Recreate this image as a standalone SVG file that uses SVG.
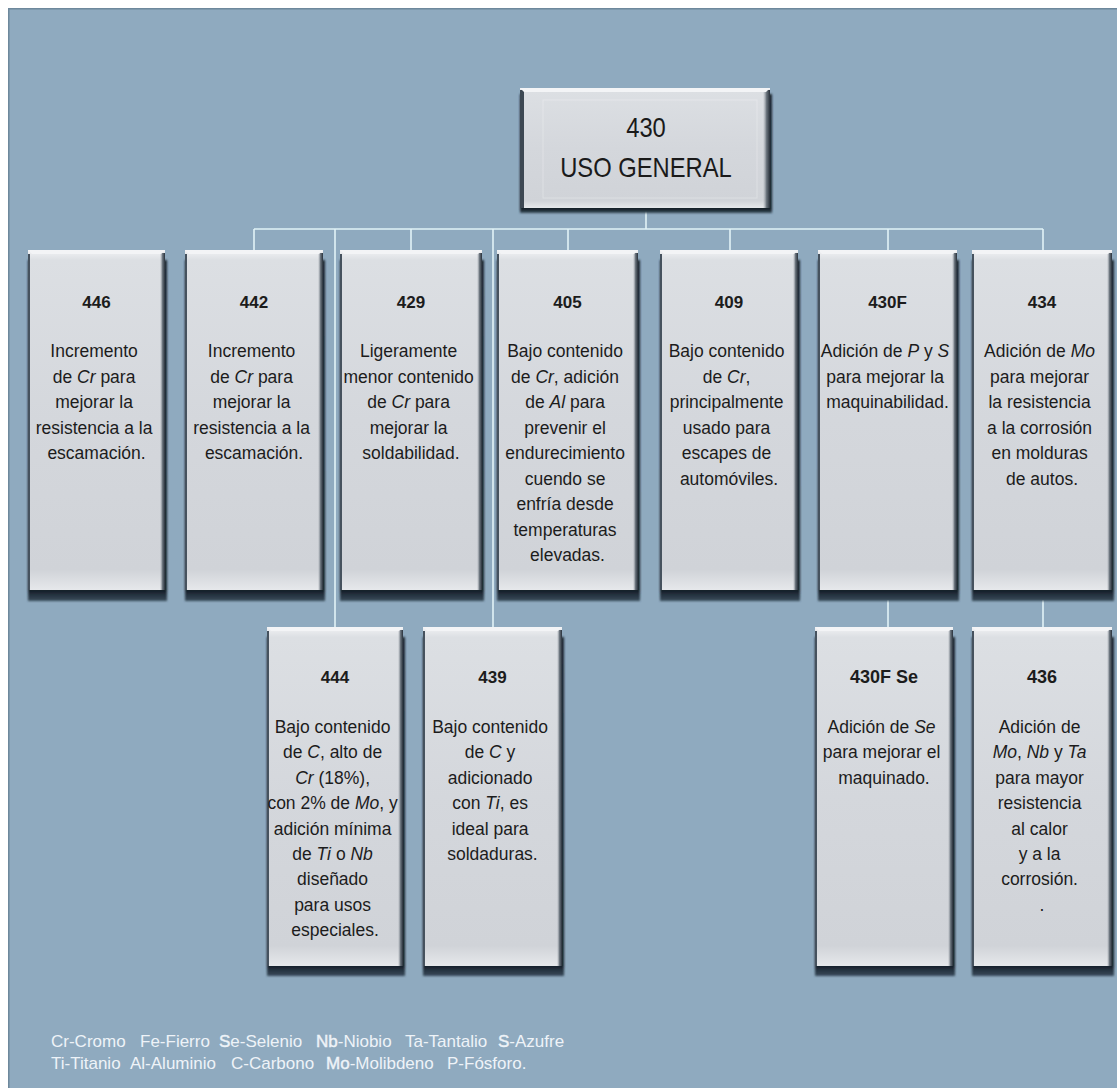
<svg xmlns="http://www.w3.org/2000/svg" width="1117" height="1088" viewBox="0 0 1117 1088">
  <defs>
    <linearGradient id="faceGrad" x1="0" y1="0" x2="0" y2="1">
      <stop offset="0" stop-color="#F1F2F4"/>
      <stop offset="0.03" stop-color="#DCDFE3"/>
      <stop offset="0.5" stop-color="#D4D7DC"/>
      <stop offset="0.94" stop-color="#D0D3D8"/>
      <stop offset="1" stop-color="#E6E8EB"/>
    </linearGradient>
    <linearGradient id="edgeRGrad" x1="0" y1="0" x2="1" y2="0">
      <stop offset="0" stop-color="#9AA1A9" stop-opacity="0"/>
      <stop offset="0.5" stop-color="#6B747D"/>
      <stop offset="1" stop-color="#27303A"/>
    </linearGradient>
    <linearGradient id="shadowGrad" x1="0" y1="0" x2="0" y2="1">
      <stop offset="0" stop-color="#1A2530"/>
      <stop offset="0.97" stop-color="#17212B"/>
      <stop offset="1" stop-color="#3B4C5C"/>
    </linearGradient>
    <filter id="soft" x="-5%" y="-5%" width="110%" height="110%">
      <feGaussianBlur stdDeviation="0.9"/>
    </filter>
  </defs>
  <style>
    .panel { fill: #8FAABF; }
    .panelEdge { stroke: #6E889C; stroke-width: 1.5; fill: none; }
    .conn { stroke: #E1F3F7; stroke-width: 1.6; fill: none; }
    .sh { fill: url(#shadowGrad); filter: url(#soft); }
    .face { fill: url(#faceGrad); }
    .edgeR { fill: url(#edgeRGrad); }
    .edgeL { fill: #46525E; }
    .topb { fill: #F3F4F6; }
    .inner { fill: none; stroke: #FFFFFF; stroke-opacity: 0.28; stroke-width: 1; }
    text { font-family: "Liberation Sans", Arial, sans-serif; fill: #1C1C1C; text-anchor: middle; }
    .ttl { font-size: 17px; font-weight: bold; }
    .ttl2 { font-size: 18px; font-weight: bold; }
    .b { font-size: 17.5px; }
    .i { font-style: italic; }
    .main { font-size: 27px; fill: #1A1A1A; }
    .leg { font-size: 17px; fill: #EEF3F8; text-anchor: start; }
    .bd { stroke: #EEF3F8; stroke-width: 0.45; }
  </style>

  <!-- background panel -->
  <rect x="0" y="0" width="1117" height="1088" fill="#FFFFFF"/>
  <rect class="panel" x="8" y="8" width="1109" height="1080"/>
  <path class="panelEdge" d="M8.75,1088 V8.75 H1117"/>

  <!-- connectors -->
  <g id="connectors">
    <path class="conn" d="M646,208 V229"/>
    <path class="conn" d="M254,229 H1043"/>
    <path class="conn" d="M254,229 V250 M411,229 V250 M568,229 V250 M730,229 V250 M888,229 V250 M1043,229 V250"/>
    <path class="conn" d="M335,229 V627 M493,229 V627"/>
    <path class="conn" d="M888,600 V627 M1043,600 V627"/>
  </g>

  <!-- root node -->
  <g id="n430">
    <rect class="sh" x="520" y="94" width="252" height="119"/>
    <rect class="face" x="520" y="88" width="250" height="120"/>
    <rect class="edgeR" x="763" y="90" width="7" height="118"/>
    <rect x="520" y="90" width="4" height="118" fill="#3D4853"/>
    <polygon class="topb" points="520,88 770,88 766,92 524,92"/>
    <rect class="inner" x="543" y="100" width="214" height="98"/>
    <text class="main" transform="translate(646,137) scale(0.88,1)">430</text>
    <text class="main" transform="translate(646,177) scale(0.88,1)">USO GENERAL</text>
  </g>

  <!-- first level -->
  <g id="n446">
    <rect class="sh" x="28" y="260" width="139" height="341"/>
    <rect class="face" x="28" y="250" width="137" height="340"/>
    <rect class="edgeR" x="160" y="253" width="5" height="337"/>
    <rect class="edgeL" x="28" y="254" width="2" height="336"/>
    <polygon class="topb" points="28,250 165,250 161,254 32,254"/>
    <text class="ttl" x="96.5" y="308">446</text>
    <text class="b">
      <tspan x="96.5" y="357">Incremento</tspan>
      <tspan x="96.5" y="382.5">de <tspan class="i">Cr</tspan> para</tspan>
      <tspan x="96.5" y="408">mejorar la</tspan>
      <tspan x="96.5" y="433.5">resistencia a la</tspan>
      <tspan x="96.5" y="459">escamación.</tspan>
    </text>
  </g>

  <g id="n442">
    <rect class="sh" x="185" y="260" width="140" height="341"/>
    <rect class="face" x="185" y="250" width="138" height="340"/>
    <rect class="edgeR" x="318" y="253" width="5" height="337"/>
    <rect class="edgeL" x="185" y="254" width="2" height="336"/>
    <polygon class="topb" points="185,250 323,250 319,254 189,254"/>
    <text class="ttl" x="254" y="308">442</text>
    <text class="b">
      <tspan x="254" y="357">Incremento</tspan>
      <tspan x="254" y="382.5">de <tspan class="i">Cr</tspan> para</tspan>
      <tspan x="254" y="408">mejorar la</tspan>
      <tspan x="254" y="433.5">resistencia a la</tspan>
      <tspan x="254" y="459">escamación.</tspan>
    </text>
  </g>

  <g id="n429">
    <rect class="sh" x="340" y="260" width="144" height="341"/>
    <rect class="face" x="340" y="250" width="142" height="340"/>
    <rect class="edgeR" x="477" y="253" width="5" height="337"/>
    <rect class="edgeL" x="340" y="254" width="2" height="336"/>
    <polygon class="topb" points="340,250 482,250 478,254 344,254"/>
    <text class="ttl" x="411" y="308">429</text>
    <text class="b">
      <tspan x="411" y="357">Ligeramente</tspan>
      <tspan x="411" y="382.5">menor contenido</tspan>
      <tspan x="411" y="408">de <tspan class="i">Cr</tspan> para</tspan>
      <tspan x="411" y="433.5">mejorar la</tspan>
      <tspan x="411" y="459">soldabilidad.</tspan>
    </text>
  </g>

  <g id="n405">
    <rect class="sh" x="497" y="260" width="143" height="341"/>
    <rect class="face" x="497" y="250" width="141" height="340"/>
    <rect class="edgeR" x="633" y="253" width="5" height="337"/>
    <rect class="edgeL" x="497" y="254" width="2" height="336"/>
    <polygon class="topb" points="497,250 638,250 634,254 501,254"/>
    <text class="ttl" x="567.5" y="308">405</text>
    <text class="b">
      <tspan x="567.5" y="357">Bajo contenido</tspan>
      <tspan x="567.5" y="382.5">de <tspan class="i">Cr</tspan>, adición</tspan>
      <tspan x="567.5" y="408">de <tspan class="i">Al</tspan> para</tspan>
      <tspan x="567.5" y="433.5">prevenir el</tspan>
      <tspan x="567.5" y="459">endurecimiento</tspan>
      <tspan x="567.5" y="484.5">cuendo se</tspan>
      <tspan x="567.5" y="510">enfría desde</tspan>
      <tspan x="567.5" y="535.5">temperaturas</tspan>
      <tspan x="567.5" y="561">elevadas.</tspan>
    </text>
  </g>

  <g id="n409">
    <rect class="sh" x="660" y="260" width="140" height="341"/>
    <rect class="face" x="660" y="250" width="138" height="340"/>
    <rect class="edgeR" x="793" y="253" width="5" height="337"/>
    <rect class="edgeL" x="660" y="254" width="2" height="336"/>
    <polygon class="topb" points="660,250 798,250 794,254 664,254"/>
    <text class="ttl" x="729" y="308">409</text>
    <text class="b">
      <tspan x="729" y="357">Bajo contenido</tspan>
      <tspan x="729" y="382.5">de <tspan class="i">Cr</tspan>,</tspan>
      <tspan x="729" y="408">principalmente</tspan>
      <tspan x="729" y="433.5">usado para</tspan>
      <tspan x="729" y="459">escapes de</tspan>
      <tspan x="729" y="484.5">automóviles.</tspan>
    </text>
  </g>

  <g id="n430F">
    <rect class="sh" x="818" y="260" width="141" height="341"/>
    <rect class="face" x="818" y="250" width="139" height="340"/>
    <rect class="edgeR" x="952" y="253" width="5" height="337"/>
    <rect class="edgeL" x="818" y="254" width="2" height="336"/>
    <polygon class="topb" points="818,250 957,250 953,254 822,254"/>
    <text class="ttl" x="887.5" y="308">430F</text>
    <text class="b">
      <tspan x="887.5" y="357">Adición de <tspan class="i">P</tspan> y <tspan class="i">S</tspan></tspan>
      <tspan x="887.5" y="382.5">para mejorar la</tspan>
      <tspan x="887.5" y="408">maquinabilidad.</tspan>
    </text>
  </g>

  <g id="n434">
    <rect class="sh" x="972" y="260" width="142" height="341"/>
    <rect class="face" x="972" y="250" width="140" height="340"/>
    <rect class="edgeR" x="1107" y="253" width="5" height="337"/>
    <rect class="edgeL" x="972" y="254" width="2" height="336"/>
    <polygon class="topb" points="972,250 1112,250 1108,254 976,254"/>
    <text class="ttl" x="1042" y="308">434</text>
    <text class="b">
      <tspan x="1042" y="357">Adición de <tspan class="i">Mo</tspan></tspan>
      <tspan x="1042" y="382.5">para mejorar</tspan>
      <tspan x="1042" y="408">la resistencia</tspan>
      <tspan x="1042" y="433.5">a la corrosión</tspan>
      <tspan x="1042" y="459">en molduras</tspan>
      <tspan x="1042" y="484.5">de autos.</tspan>
    </text>
  </g>

  <!-- second level -->
  <g id="n444">
    <rect class="sh" x="267" y="637" width="138" height="339"/>
    <rect class="face" x="267" y="627" width="136" height="339"/>
    <rect class="edgeR" x="398" y="630" width="5" height="336"/>
    <rect class="edgeL" x="267" y="631" width="2" height="335"/>
    <polygon class="topb" points="267,627 403,627 399,631 271,631"/>
    <text class="ttl" x="335" y="683">444</text>
    <text class="b">
      <tspan x="335" y="733">Bajo contenido</tspan>
      <tspan x="335" y="758.4">de <tspan class="i">C</tspan>, alto de</tspan>
      <tspan x="335" y="783.8"><tspan class="i">Cr</tspan> (18%),</tspan>
      <tspan x="335" y="809.2">con 2% de <tspan class="i">Mo</tspan>, y</tspan>
      <tspan x="335" y="834.6">adición mínima</tspan>
      <tspan x="335" y="860">de <tspan class="i">Ti</tspan> o <tspan class="i">Nb</tspan></tspan>
      <tspan x="335" y="885.4">diseñado</tspan>
      <tspan x="335" y="910.8">para usos</tspan>
      <tspan x="335" y="936.2">especiales.</tspan>
    </text>
  </g>

  <g id="n439">
    <rect class="sh" x="423" y="637" width="141" height="339"/>
    <rect class="face" x="423" y="627" width="139" height="339"/>
    <rect class="edgeR" x="557" y="630" width="5" height="336"/>
    <rect class="edgeL" x="423" y="631" width="2" height="335"/>
    <polygon class="topb" points="423,627 562,627 558,631 427,631"/>
    <text class="ttl" x="492.5" y="683">439</text>
    <text class="b">
      <tspan x="492.5" y="733">Bajo contenido</tspan>
      <tspan x="492.5" y="758.4">de <tspan class="i">C</tspan> y</tspan>
      <tspan x="492.5" y="783.8">adicionado</tspan>
      <tspan x="492.5" y="809.2">con <tspan class="i">Ti</tspan>, es</tspan>
      <tspan x="492.5" y="834.6">ideal para</tspan>
      <tspan x="492.5" y="860">soldaduras.</tspan>
    </text>
  </g>

  <g id="n430FSe">
    <rect class="sh" x="815" y="637" width="140" height="339"/>
    <rect class="face" x="815" y="627" width="138" height="339"/>
    <rect class="edgeR" x="948" y="630" width="5" height="336"/>
    <rect class="edgeL" x="815" y="631" width="2" height="335"/>
    <polygon class="topb" points="815,627 953,627 949,631 819,631"/>
    <text class="ttl2" x="884" y="683">430F Se</text>
    <text class="b">
      <tspan x="884" y="733">Adición de <tspan class="i">Se</tspan></tspan>
      <tspan x="884" y="758.4">para mejorar el</tspan>
      <tspan x="884" y="783.8">maquinado.</tspan>
    </text>
  </g>

  <g id="n436">
    <rect class="sh" x="972" y="637" width="142" height="339"/>
    <rect class="face" x="972" y="627" width="140" height="339"/>
    <rect class="edgeR" x="1107" y="630" width="5" height="336"/>
    <rect class="edgeL" x="972" y="631" width="2" height="335"/>
    <polygon class="topb" points="972,627 1112,627 1108,631 976,631"/>
    <text class="ttl2" x="1042" y="683">436</text>
    <text class="b">
      <tspan x="1042" y="733">Adición de</tspan>
      <tspan x="1042" y="758.4"><tspan class="i">Mo</tspan>, <tspan class="i">Nb</tspan> y <tspan class="i">Ta</tspan></tspan>
      <tspan x="1042" y="783.8">para mayor</tspan>
      <tspan x="1042" y="809.2">resistencia</tspan>
      <tspan x="1042" y="834.6">al calor</tspan>
      <tspan x="1042" y="860">y a la</tspan>
      <tspan x="1042" y="885.4">corrosión.</tspan>
      <tspan x="1042" y="910.8">.</tspan>
    </text>
  </g>

  <!-- element legend -->
  <g id="legend">
    <text class="leg" x="51" y="1047">Cr-Cromo</text>
    <text class="leg" x="140" y="1047">Fe-Fierro</text>
    <text class="leg" x="219" y="1047"><tspan class="bd">S</tspan>e-Selenio</text>
    <text class="leg" x="316" y="1047"><tspan class="bd">Nb</tspan>-Niobio</text>
    <text class="leg" x="405" y="1047">Ta-Tantalio</text>
    <text class="leg" x="498" y="1047"><tspan class="bd">S</tspan>-Azufre</text>
    <text class="leg" x="51" y="1069">Ti-Titanio</text>
    <text class="leg" x="130" y="1069">Al-Aluminio</text>
    <text class="leg" x="231" y="1069">C-Carbono</text>
    <text class="leg" x="326" y="1069"><tspan class="bd">Mo</tspan>-Molibdeno</text>
    <text class="leg" x="447" y="1069">P-Fósforo.</text>
  </g>
</svg>
